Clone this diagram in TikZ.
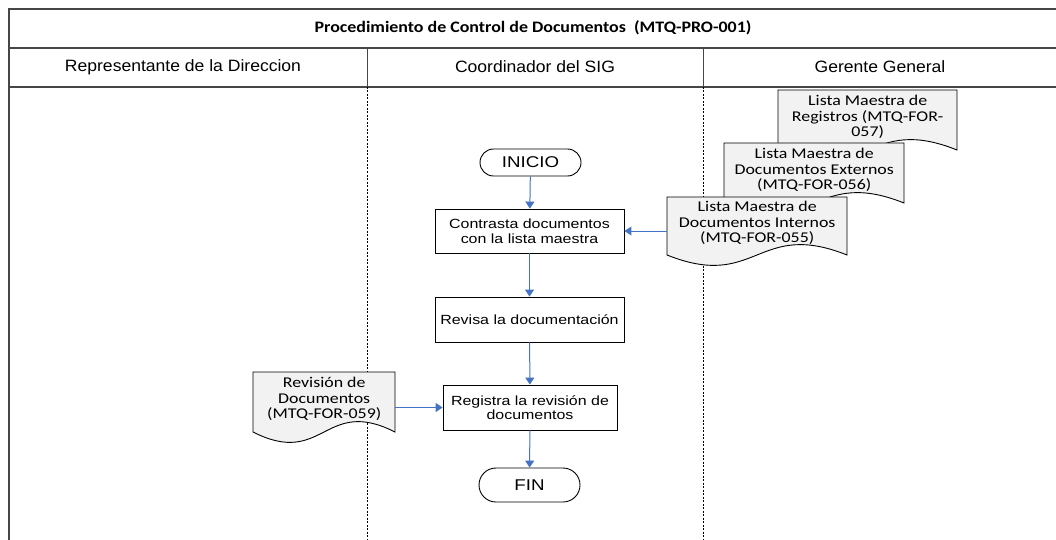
\documentclass[tikz,border=0pt]{standalone}
\usepackage{fontspec}
\usetikzlibrary{arrows.meta,shapes.misc}

\newfontfamily\wideArial[FakeStretch=1.2]{Liberation Sans}
\newfontfamily\headArial[FakeStretch=1.07]{Liberation Sans}
\newfontfamily\wideCalibri[FakeStretch=1.2]{Carlito}
\newfontfamily\titleCalibri[FakeStretch=1.12]{Carlito}

\definecolor{flowblue}{RGB}{68,114,196}
\definecolor{framegray}{RGB}{70,70,70}
\definecolor{docfill}{RGB}{242,242,242}

\tikzset{
  frame/.style={draw=framegray, line width=1.4pt},
  lanesep/.style={draw=black, line width=0.8pt, dash pattern=on 2pt off 1.5pt},
  headsep/.style={draw=framegray, line width=0.8pt},
  procbox/.style={draw=black, fill=white, line width=0.9pt, rectangle,
    inner sep=0pt, align=center,
    font=\wideArial\fontsize{13.3pt}{14.5pt}\selectfont},
  terminal/.style={draw=black, fill=white, line width=0.9pt, rounded rectangle,
    inner sep=0pt, minimum width=101pt,
    font=\wideArial\fontsize{15.6pt}{17pt}\selectfont},
  docshape/.style={draw=black, fill=docfill, line width=0.9pt},
  doctext/.style={inner sep=0pt, align=center, anchor=north west,
    font=\wideCalibri\fontsize{14.9pt}{15.6pt}\selectfont},
  headtext/.style={font=\headArial\fontsize{16.4pt}{18pt}\selectfont},
  titletext/.style={font=\titleCalibri\bfseries\fontsize{16pt}{18pt}\selectfont},
  flow/.style={draw=flowblue, line width=1pt,
    -{Triangle[length=7pt,width=9pt]}},
}

% document symbol: name, left, top, width, side height, text
\newcommand{\docsheet}[6]{%
  \pgfmathsetmacro\dR{#2+#4}%
  \pgfmathsetmacro\dB{#3+#5}%
  \pgfmathsetmacro\dM{#2+#4/2}%
  \path[docshape] (#2,#3) -- (\dR,#3) -- (\dR,\dB)
    .. controls (\dM,\dB-36) and (\dM,\dB+36) .. (#2,\dB) -- cycle;
  \node[doctext, minimum width=#4pt, minimum height=#5pt-6pt] (#1) at (#2,#3) {#6};
}

\begin{document}
\begin{tikzpicture}[x=1pt,y=-1pt]
\useasboundingbox (0,0) rectangle (1056,540);

% swimlane frame
\draw[frame] (1056,9) -- (9,9) -- (9,540);
\draw[frame] (9,48) -- (1056,48);
\draw[frame] (9,87) -- (1056,87);
\draw[headsep] (367,48) -- (367,87);
\draw[headsep] (703,48) -- (703,87);
\draw[lanesep] (367,87) -- (367,540);
\draw[lanesep] (703,87) -- (703,540);

\node[titletext] (title) at (533,28) {Procedimiento de Control de Documentos\ \ (MTQ-PRO-001)};
\node[headtext] (laneA) at (183,67) {Representante de la Direccion};
\node[headtext] (laneB) at (535,67) {Coordinador del SIG};
\node[headtext] (laneC) at (880,67) {Gerente General};

% records and lists
\docsheet{regs}{778}{90}{179}{60}{Lista Maestra de\\Registros (MTQ-FOR-\\057)}
\docsheet{ext}{724}{143}{180}{60}{Lista Maestra de\\Documentos Externos\\(MTQ-FOR-056)}
\docsheet{int}{667}{197}{180}{58}{Lista Maestra de\\Documentos Internos\\(MTQ-FOR-055)}
\docsheet{rev}{253}{372}{142}{60}{Revisión de\\Documentos\\(MTQ-FOR-059)}

% process steps
\node[terminal, minimum height=27pt] (ini) at (530.5,162.5) {INICIO};
\node[procbox, minimum width=189pt, minimum height=44pt] (con) at (529.5,231)
  {Contrasta documentos\\con la lista maestra};
\node[procbox, minimum width=189pt, minimum height=45pt] (rvs) at (529.5,319.5)
  {Revisa la documentación};
\node[procbox, minimum width=174pt, minimum height=45pt] (reg) at (530,407.5)
  {Registra la revisión de\\documentos};
\node[terminal, minimum height=34pt] (fin) at (529.5,485) {FIN};

% connectors
\draw[flow] (ini) -- (con);
\draw[flow] (int.west |- con.east) -- (con.east);
\draw[flow] (con) -- (rvs);
\draw[flow] (rvs) -- (reg);
\draw[flow] (rev.east |- reg.west) -- (reg.west);
\draw[flow] (reg) -- (fin);
\end{tikzpicture}
\end{document}
